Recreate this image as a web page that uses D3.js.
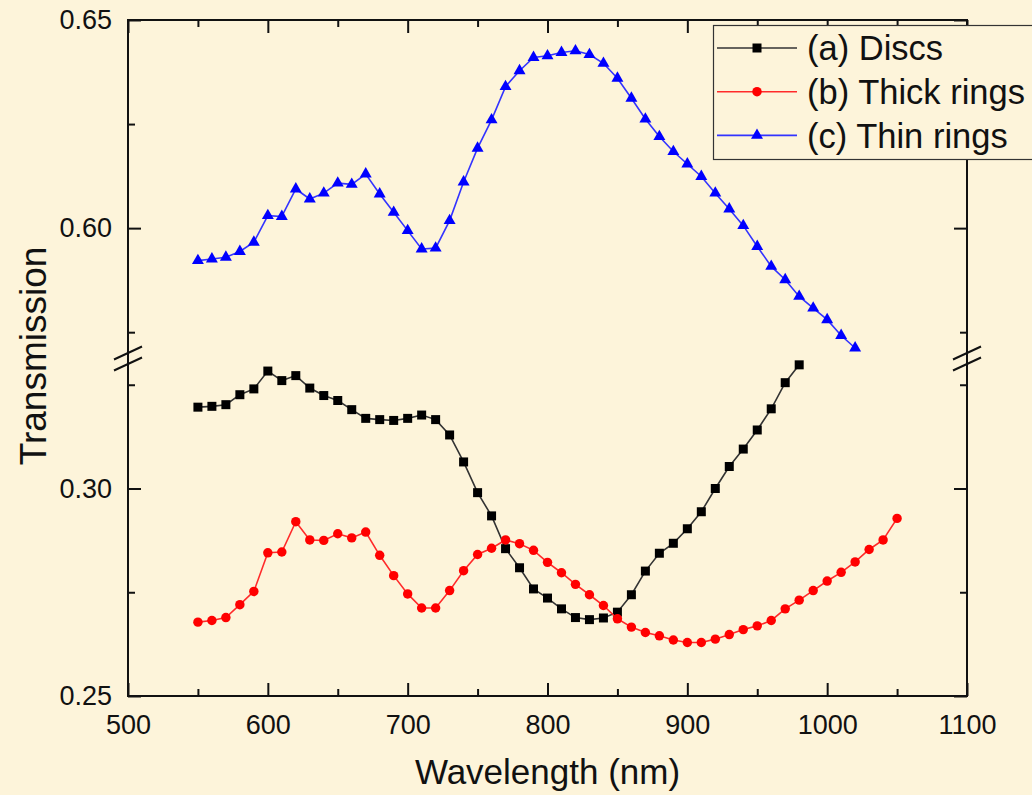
<!DOCTYPE html>
<html>
<head>
<meta charset="utf-8">
<script src="https://cdn.jsdelivr.net/npm/d3@7"></script>
<style>
  html, body { margin: 0; padding: 0; background: #fdf4da; }
  svg { display: block; }
  text { font-family: "Liberation Sans", Arial, sans-serif; fill: #111; }
</style>
</head>
<body>
<svg id="chart" width="1032" height="795"></svg>
<script>
// ---------------- data ----------------
const wavelengths = [550,560,570,580,590,600,610,620,630,640,650,660,670,680,690,700,710,720,730,740,750,760,770,780,790,800,810,820,830,840,850,860,870,880,890,900,910,920,930,940,950,960,970,980,990,1000,1010,1020,1030,1040,1050];

// (a) Discs : 550 .. 980 nm
const discs = [0.3196,0.3198,0.3202,0.3226,0.3240,0.3283,0.3260,0.3272,0.3242,0.3224,0.3212,0.3190,0.3169,0.3166,0.3164,0.3169,0.3177,0.3166,0.3129,0.3064,0.2990,0.2934,0.2855,0.2809,0.2758,0.2736,0.2710,0.2689,0.2684,0.2688,0.2702,0.2744,0.2801,0.2844,0.2868,0.2903,0.2944,0.3000,0.3053,0.3095,0.3141,0.3192,0.3255,0.3298];

// (b) Thick rings : 550 .. 1050 nm
const thickRings = [0.2678,0.2682,0.2689,0.2720,0.2752,0.2845,0.2847,0.2920,0.2876,0.2875,0.2891,0.2881,0.2895,0.2839,0.2790,0.2746,0.2712,0.2712,0.2754,0.2802,0.2841,0.2856,0.2876,0.2867,0.2851,0.2822,0.2797,0.2769,0.2744,0.2718,0.2686,0.2666,0.2653,0.2645,0.2635,0.2629,0.2629,0.2637,0.2648,0.2660,0.2669,0.2682,0.2710,0.2731,0.2754,0.2777,0.2798,0.2823,0.2853,0.2876,0.2928];

// (c) Thin rings : 550 .. 1020 nm
const thinRings = [0.5922,0.5926,0.5930,0.5944,0.5966,0.6030,0.6028,0.6094,0.6070,0.6084,0.6108,0.6105,0.6130,0.6082,0.6038,0.5994,0.5950,0.5952,0.6018,0.6111,0.6192,0.6260,0.6340,0.6378,0.6410,0.6414,0.6422,0.6426,0.6417,0.6396,0.6360,0.6312,0.6262,0.6220,0.6184,0.6154,0.6124,0.6084,0.6046,0.6006,0.5956,0.5908,0.5876,0.5836,0.5808,0.5780,0.5742,0.5712];

const seriesNames = ["(a) Discs", "(b) Thick rings", "(c) Thin rings"];

const xMajorTicks = [500,600,700,800,900,1000,1100];
const xMinorTicks = [550,650,750,850,950,1050];
const yUpperMajor = [0.60,0.65];
const yUpperMinor = [0.575,0.625];
const yLowerMajor = [0.25,0.30];
const yLowerMinor = [0.275,0.325];
const xDomain = [500,1100];
const yUpperDomain = [0.57,0.65];
const yLowerDomain = [0.25,0.33];

// ---------------- layout ----------------
const L = 128, R = 967, T = 20, B = 696;
const upperBottom = 353, lowerTop = 364;

const svg = d3.select("#chart");
const x = d3.scaleLinear().domain(xDomain).range([L, R]);
const yUp = d3.scaleLinear().domain(yUpperDomain).range([upperBottom, T]);
const yLo = d3.scaleLinear().domain(yLowerDomain).range([B, lowerTop]);

const MAJ = 13, MIN = 7;
const fmt = d3.format(".2f");
const TICK_FS = 27;

function styleAxis(g, fs) {
  g.select(".domain").remove();
  g.selectAll("line").attr("stroke", "#111").attr("stroke-width", 2);
  g.selectAll("text").attr("font-size", fs).attr("font-family", "Liberation Sans, Arial, sans-serif").attr("fill", "#111");
  g.attr("font-size", fs);
}

// bottom axis
svg.append("g").attr("transform", `translate(0,${B})`)
  .call(d3.axisBottom(x).tickValues(xMajorTicks).tickSizeInner(-MAJ).tickSizeOuter(0).tickPadding(19).tickFormat(d3.format("d")))
  .call(g => styleAxis(g, TICK_FS));
svg.append("g").attr("transform", `translate(0,${B})`)
  .call(d3.axisBottom(x).tickValues(xMinorTicks).tickSizeInner(-MIN).tickSizeOuter(0).tickFormat(""))
  .call(g => styleAxis(g, TICK_FS));
// top axis (mirror)
svg.append("g").attr("transform", `translate(0,${T})`)
  .call(d3.axisTop(x).tickValues(xMajorTicks).tickSizeInner(-MAJ).tickSizeOuter(0).tickFormat(""))
  .call(g => styleAxis(g, TICK_FS));
svg.append("g").attr("transform", `translate(0,${T})`)
  .call(d3.axisTop(x).tickValues(xMinorTicks).tickSizeInner(-MIN).tickSizeOuter(0).tickFormat(""))
  .call(g => styleAxis(g, TICK_FS));

// left / right axes
[[yUp, yUpperMajor, yUpperMinor], [yLo, yLowerMajor, yLowerMinor]].forEach(([ys, maj, min]) => {
  svg.append("g").attr("transform", `translate(${L},0)`)
    .call(d3.axisLeft(ys).tickValues(maj).tickSizeInner(-MAJ).tickSizeOuter(0).tickPadding(16).tickFormat(fmt))
    .call(g => styleAxis(g, TICK_FS));
  svg.append("g").attr("transform", `translate(${L},0)`)
    .call(d3.axisLeft(ys).tickValues(min).tickSizeInner(-MIN).tickSizeOuter(0).tickFormat(""))
    .call(g => styleAxis(g, TICK_FS));
  svg.append("g").attr("transform", `translate(${R},0)`)
    .call(d3.axisRight(ys).tickValues(maj).tickSizeInner(-MAJ).tickSizeOuter(0).tickFormat(""))
    .call(g => styleAxis(g, TICK_FS));
  svg.append("g").attr("transform", `translate(${R},0)`)
    .call(d3.axisRight(ys).tickValues(min).tickSizeInner(-MIN).tickSizeOuter(0).tickFormat(""))
    .call(g => styleAxis(g, TICK_FS));
});

// frame
svg.append("rect").attr("x", L).attr("y", T).attr("width", R - L).attr("height", B - T)
  .attr("fill", "none").attr("stroke", "#111").attr("stroke-width", 2);

// break marks
[L, R].forEach(cx => {
  [upperBottom, lowerTop].forEach(cy => {
    svg.append("line").attr("x1", cx - 14).attr("y1", cy + 6.5).attr("x2", cx + 14).attr("y2", cy - 6.5)
      .attr("stroke", "#111").attr("stroke-width", 2);
  });
});

// axis titles
svg.append("text").attr("x", (L + R) / 2).attr("y", 784).attr("text-anchor", "middle")
  .attr("font-size", 35).text("Wavelength (nm)");
svg.append("text").attr("transform", `translate(46,356) rotate(-90)`).attr("text-anchor", "middle")
  .attr("font-size", 37).text("Transmission");

// ---------------- series ----------------
const series = [
  { name: seriesNames[0], vals: discs, ys: yLo, color: "#000000", line: "#333333", marker: "square" },
  { name: seriesNames[1], vals: thickRings, ys: yLo, color: "#ff0000", line: "#ff2a2a", marker: "circle" },
  { name: seriesNames[2], vals: thinRings, ys: yUp, color: "#0000ff", line: "#3333ff", marker: "triangle" }
];

const symbolOf = {
  square: d3.symbol().type(d3.symbolSquare).size(81),
  circle: d3.symbol().type(d3.symbolCircle).size(70),
  triangle: d3.symbol().type(d3.symbolTriangle).size(62)
};

series.forEach(s => {
  const pts = s.vals.map((v, i) => [wavelengths[i], v]);
  svg.append("path").datum(pts)
    .attr("fill", "none").attr("stroke", s.line).attr("stroke-width", 1.6)
    .attr("d", d3.line().x(d => x(d[0])).y(d => s.ys(d[1])));
  svg.append("g").selectAll("path").data(pts).join("path")
    .attr("transform", d => `translate(${x(d[0])},${s.ys(d[1])})`)
    .attr("d", symbolOf[s.marker]())
    .attr("fill", s.color);
});

// ---------------- legend ----------------
const lg = svg.append("g");
lg.append("rect").attr("x", 713.5).attr("y", 25.5).attr("width", 340).attr("height", 134)
  .attr("fill", "#fdf4da").attr("stroke", "#333").attr("stroke-width", 1.2);
series.forEach((s, i) => {
  const cy = 48 + i * 43.7;
  lg.append("line").attr("x1", 717).attr("x2", 797).attr("y1", cy).attr("y2", cy)
    .attr("stroke", s.line).attr("stroke-width", 1.6);
  lg.append("path").attr("transform", `translate(757,${cy})`).attr("d", symbolOf[s.marker]()).attr("fill", s.color);
  lg.append("text").attr("x", 807).attr("y", cy).attr("dy", "0.36em").attr("font-size", 34.5).text(s.name);
});
</script>
</body>
</html>
